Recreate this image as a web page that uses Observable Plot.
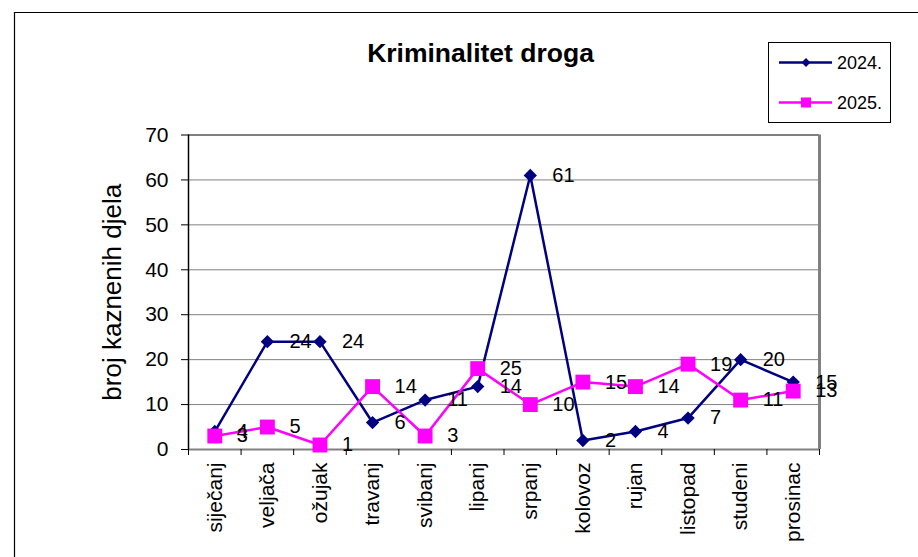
<!DOCTYPE html>
<html>
<head>
<meta charset="utf-8">
<script src="https://cdn.jsdelivr.net/npm/d3@7"></script>
<script src="https://cdn.jsdelivr.net/npm/@observablehq/plot@0.6"></script>
<style>
  html, body { margin: 0; padding: 0; background: white; }
  svg { display: block; }
</style>
</head>
<body>
<div id="chart"></div>
<script>
const months = ["siječanj","veljača","ožujak","travanj","svibanj","lipanj","srpanj","kolovoz","rujan","listopad","studeni","prosinac"];
const values2024 = [4,24,24,6,11,14,61,2,4,7,20,15];
const values2025 = [3,5,1,14,3,18,10,15,14,19,11,13];
const labels2024 = ["4","24","24","6","11","14","61","2","4","7","20","15"];
const labels2025 = ["3","5","1","14","3","25","10","15","14","19","11","13"];
const yTicks = [0,10,20,30,40,50,60,70];
const seriesNames = ["2024.","2025."];
const seriesColors = ["#000080","#FF00FF"];
const title = "Kriminalitet droga";
const yLabel = "broj kaznenih djela";

const rows2024 = months.map((m, i) => ({i, month: m, value: values2024[i], label: labels2024[i]}));
const rows2025 = months.map((m, i) => ({i, month: m, value: values2025[i], label: labels2025[i]}));
const boundaries = d3.range(months.length + 1).map(k => k - 0.5);

const chart = Plot.plot({
  width: 918,
  height: 557,
  marginLeft: 188,
  marginRight: 99,
  marginTop: 134.5,
  marginBottom: 108,
  style: {fontFamily: "'Liberation Sans', Arial, sans-serif", fontSize: "21px", color: "black", background: "white"},
  x: {type: "linear", domain: [-0.5, months.length - 0.5]},
  y: {domain: [0, 70]},
  marks: [
    Plot.ruleY(yTicks.slice(1, -1), {stroke: "#808080", strokeWidth: 1}),
    Plot.ruleY([70], {stroke: "#808080", strokeWidth: 2}),
    Plot.ruleX([months.length - 0.5], {stroke: "#808080", strokeWidth: 3}),
    Plot.ruleY([0], {stroke: "#808080", strokeWidth: 2}),
    Plot.ruleX([-0.5], {stroke: "black", strokeWidth: 1.5}),
    Plot.axisY({ticks: yTicks, tickSize: 7, tickPadding: 13, label: null, fontSize: 21}),
    Plot.axisX({ticks: boundaries, tickSize: 6, tickFormat: () => "", label: null}),
    Plot.axisX({ticks: d3.range(months.length), tickSize: 0, tickPadding: 13, tickRotate: -90, tickFormat: i => months[i], label: null, fontSize: 21}),
    Plot.line(rows2024, {x: "i", y: "value", stroke: seriesColors[0], strokeWidth: 2.5}),
    Plot.dot(rows2024, {x: "i", y: "value", symbol: "diamond2", r: 6, fill: seriesColors[0], stroke: "none"}),
    Plot.line(rows2025, {x: "i", y: "value", stroke: seriesColors[1], strokeWidth: 2.5}),
    Plot.dot(rows2025, {x: "i", y: "value", symbol: "square", r: 8.4, fill: seriesColors[1], stroke: "none"}),
    Plot.text(rows2024, {x: "i", y: "value", text: "label", dx: 22, textAnchor: "start", fontSize: 20, fill: "black"}),
    Plot.text(rows2025, {x: "i", y: "value", text: "label", dx: 22, textAnchor: "start", fontSize: 20, fill: "black"}),
    Plot.text([title], {frameAnchor: "top", dx: -23.5, dy: -92, fontSize: 26.5, fontWeight: "bold", fill: "black"}),
    Plot.text([yLabel], {frameAnchor: "left", textAnchor: "middle", dx: -76, rotate: -90, fontSize: 26, fill: "black"})
  ]
});

const svg = d3.select(chart);
// outer chart-area border
svg.append("path")
  .attr("d", "M14.5,557V12.5H918")
  .attr("fill", "none").attr("stroke", "black").attr("stroke-width", 1.2);

// legend
const lg = svg.append("g").attr("font-family", "'Liberation Sans', Arial, sans-serif").attr("text-anchor", "start");
lg.append("rect").attr("x", 768.5).attr("y", 42.5).attr("width", 122).attr("height", 80)
  .attr("fill", "white").attr("stroke", "black").attr("stroke-width", 1);
const symbols = [d3.symbol(d3.symbolDiamond2, 50), d3.symbol(d3.symbolSquare, 100)];
seriesNames.forEach((name, k) => {
  const yy = 62.5 + k * 40;
  lg.append("line").attr("x1", 779).attr("x2", 832).attr("y1", yy).attr("y2", yy)
    .attr("stroke", seriesColors[k]).attr("stroke-width", 2.5);
  lg.append("path").attr("d", symbols[k]()).attr("transform", `translate(806,${yy})`)
    .attr("fill", seriesColors[k]);
  lg.append("text").attr("x", 837).attr("y", yy).attr("dy", "0.35em")
    .attr("text-anchor", "start")
    .attr("font-size", 18).attr("fill", "black").text(name);
});

document.getElementById("chart").appendChild(chart);
</script>
</body>
</html>
